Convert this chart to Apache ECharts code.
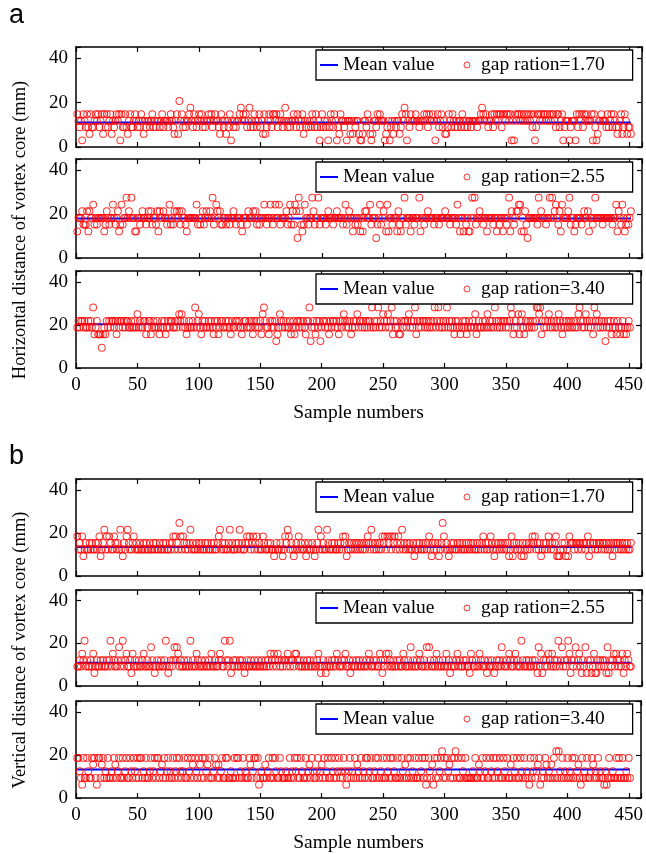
<!DOCTYPE html>
<html><head><meta charset="utf-8">
<script src="https://cdn.jsdelivr.net/npm/echarts@6/dist/echarts.min.js"></script>
<style>html,body{margin:0;padding:0;background:#fff}#c{width:646px;height:854px}</style>
</head><body><div id="c"></div>
<script>
// ---- data ----
const xTickLabels = [0, 50, 100, 150, 200, 250, 300, 350, 400, 450];
const yTickLabels = [0, 20, 40];
const seriesNames = ['gap ration=1.70', 'gap ration=2.55', 'gap ration=3.40'];
const meanValues = [11.0, 18.0, 20.3, 13.5, 10.9, 13.2];

const horiz170 = [
14.8,11.8,8.9,11.8,3,14.8,11.8,8.9,14.8,8.9,5.9,14.8,8.9,8.9,11.8,14.8,11.8,14.8,8.9,11.8,14.8,5.9,14.8,8.9,14.8,
8.9,11.8,14.8,5.9,11.8,8.9,11.8,14.8,11.8,14.8,3,14.8,8.9,8.9,14.8,8.9,5.9,11.8,14.8,8.9,8.9,11.8,14.8,11.8,8.9,
11.8,8.9,14.8,11.8,5.9,11.8,8.9,11.8,11.8,8.9,11.8,14.8,8.9,11.8,8.9,11.8,11.8,8.9,11.8,14.8,8.9,11.8,11.8,11.8,8.9,
11.8,14.8,11.8,8.9,5.9,11.8,14.8,5.9,20.7,11.8,14.8,8.9,11.8,8.9,11.8,11.8,14.8,17.7,11.8,8.9,14.8,11.8,8.9,11.8,14.8,
11.8,14.8,8.9,11.8,8.9,11.8,11.8,14.8,11.8,14.8,8.9,11.8,14.8,11.8,11.8,8.9,5.9,14.8,11.8,8.9,11.8,5.9,11.8,8.9,14.8,
3,11.8,8.9,11.8,8.9,11.8,11.8,14.8,17.7,11.8,14.8,11.8,14.8,8.9,11.8,17.7,8.9,11.8,8.9,14.8,11.8,8.9,11.8,14.8,8.9,
11.8,5.9,14.8,5.9,8.9,11.8,14.8,11.8,8.9,14.8,14.8,11.8,14.8,8.9,11.8,14.8,11.8,8.9,11.8,17.7,11.8,8.9,11.8,8.9,11.8,
11.8,14.8,11.8,8.9,14.8,11.8,8.9,11.8,14.8,5.9,11.8,8.9,11.8,8.9,11.8,8.9,14.8,11.8,8.9,14.8,8.9,11.8,3,8.9,14.8,
8.9,11.8,8.9,11.8,3,8.9,14.8,11.8,8.9,14.8,11.8,3,8.9,5.9,14.8,11.8,11.8,8.9,11.8,3,11.8,11.8,5.9,11.8,5.9,
11.8,8.9,11.8,11.8,5.9,3,3,5.9,11.8,11.8,8.9,14.8,11.8,5.9,3,5.9,11.8,11.8,8.9,14.8,11.8,14.8,11.8,11.8,11.8,
3,5.9,8.9,11.8,3,8.9,11.8,5.9,11.8,8.9,11.8,11.8,5.9,8.9,14.8,11.8,17.7,14.8,3,11.8,8.9,14.8,11.8,11.8,11.8,
14.8,11.8,11.8,8.9,11.8,11.8,11.8,14.8,11.8,14.8,8.9,14.8,11.8,11.8,14.8,11.8,3,11.8,14.8,8.9,11.8,14.8,8.9,11.8,5.9,
5.9,8.9,14.8,11.8,8.9,14.8,11.8,8.9,11.8,8.9,11.8,11.8,8.9,14.8,11.8,8.9,11.8,8.9,11.8,11.8,8.9,11.8,11.8,11.8,11.8,
8.9,11.8,11.8,14.8,17.7,14.8,11.8,14.8,11.8,8.9,11.8,11.8,14.8,8.9,14.8,11.8,14.8,11.8,14.8,14.8,8.9,14.8,14.8,11.8,14.8,
14.8,11.8,14.8,3,11.8,3,14.8,11.8,14.8,14.8,11.8,14.8,11.8,14.8,11.8,14.8,11.8,14.8,11.8,14.8,8.9,14.8,3,8.9,14.8,
14.8,11.8,14.8,11.8,14.8,14.8,11.8,14.8,11.8,14.8,11.8,14.8,14.8,11.8,8.9,14.8,14.8,8.9,11.8,14.8,3,8.9,11.8,11.8,11.8,
3,8.9,11.8,11.8,11.8,3,14.8,8.9,14.8,11.8,14.8,8.9,14.8,11.8,14.8,11.8,11.8,11.8,14.8,3,14.8,8.9,3,5.9,11.8,
11.8,14.8,11.8,11.8,11.8,8.9,14.8,8.9,11.8,14.8,8.9,14.8,11.8,8.9,5.9,8.9,11.8,14.8,5.9,8.9,14.8,11.8,5.9,8.9,8.9,
5.9];

const horiz255 = [
12.1,18.2,18.2,18.2,21.3,15.2,15.2,15.2,21.3,12.1,21.3,18.2,18.2,24.3,15.2,18.2,15.2,18.2,18.2,18.2,18.2,18.2,12.1,15.2,21.3,
18.2,15.2,18.2,18.2,24.3,18.2,15.2,18.2,21.3,12.1,15.2,24.3,15.2,18.2,18.2,27.4,18.2,21.3,18.2,27.4,18.2,18.2,12.1,12.1,18.2,
18.2,15.2,18.2,21.3,18.2,18.2,15.2,18.2,21.3,18.2,21.3,15.2,18.2,18.2,15.2,21.3,12.1,21.3,18.2,18.2,21.3,18.2,18.2,15.2,18.2,
24.3,15.2,18.2,15.2,21.3,18.2,21.3,18.2,21.3,15.2,21.3,18.2,18.2,15.2,12.1,18.2,18.2,18.2,18.2,18.2,18.2,18.2,24.3,15.2,18.2,
15.2,18.2,21.3,15.2,18.2,21.3,18.2,18.2,21.3,18.2,27.4,15.2,18.2,24.3,21.3,18.2,21.3,15.2,15.2,18.2,18.2,15.2,18.2,18.2,15.2,
18.2,18.2,21.3,18.2,15.2,18.2,18.2,18.2,15.2,12.1,18.2,18.2,18.2,15.2,21.3,18.2,18.2,18.2,21.3,18.2,21.3,15.2,18.2,15.2,18.2,
18.2,18.2,24.3,18.2,15.2,18.2,18.2,24.3,18.2,15.2,18.2,24.3,18.2,18.2,24.3,15.2,18.2,18.2,18.2,18.2,21.3,15.2,18.2,24.3,15.2,
21.3,15.2,24.3,21.3,9.1,27.4,21.3,15.2,12.1,15.2,24.3,18.2,18.2,15.2,18.2,18.2,27.4,21.3,15.2,18.2,18.2,27.4,15.2,18.2,18.2,
18.2,18.2,15.2,18.2,21.3,18.2,18.2,18.2,15.2,18.2,18.2,21.3,18.2,18.2,18.2,18.2,15.2,18.2,24.3,15.2,18.2,21.3,18.2,18.2,12.1,
18.2,15.2,18.2,15.2,18.2,12.1,18.2,12.1,18.2,21.3,21.3,18.2,18.2,24.3,15.2,18.2,18.2,18.2,9.1,15.2,18.2,24.3,15.2,18.2,21.3,
18.2,12.1,24.3,12.1,18.2,18.2,15.2,18.2,18.2,18.2,12.1,21.3,15.2,12.1,18.2,18.2,27.4,15.2,18.2,18.2,18.2,12.1,18.2,18.2,15.2,
18.2,18.2,18.2,27.4,12.1,18.2,18.2,15.2,18.2,18.2,21.3,18.2,18.2,18.2,18.2,15.2,18.2,18.2,18.2,15.2,18.2,18.2,18.2,18.2,21.3,
18.2,18.2,18.2,15.2,18.2,18.2,18.2,18.2,15.2,24.3,18.2,12.1,18.2,18.2,12.1,18.2,15.2,18.2,12.1,12.1,18.2,27.4,18.2,27.4,15.2,
18.2,18.2,21.3,18.2,18.2,15.2,18.2,18.2,12.1,18.2,18.2,18.2,18.2,15.2,18.2,18.2,12.1,18.2,15.2,18.2,18.2,12.1,18.2,18.2,15.2,
18.2,27.4,12.1,21.3,18.2,15.2,18.2,21.3,21.3,24.3,24.3,12.1,18.2,12.1,21.3,15.2,9.1,18.2,18.2,18.2,18.2,18.2,18.2,18.2,15.2,
27.4,18.2,21.3,18.2,18.2,18.2,15.2,18.2,18.2,27.4,18.2,27.4,18.2,21.3,24.3,18.2,15.2,21.3,12.1,24.3,18.2,18.2,18.2,18.2,21.3,
27.4,15.2,18.2,18.2,12.1,15.2,18.2,18.2,18.2,18.2,15.2,18.2,21.3,18.2,18.2,21.3,12.1,18.2,18.2,15.2,18.2,27.4,18.2,18.2,18.2,
18.2,18.2,15.2,18.2,18.2,18.2,18.2,18.2,18.2,18.2,15.2,18.2,18.2,24.3,12.1,21.3,18.2,15.2,24.3,18.2,12.1,15.2,18.2,15.2,18.2,
21.3];

const horiz340 = [
18.8,21.9,18.8,21.9,21.9,18.8,21.9,18.8,18.8,21.9,18.8,21.9,18.8,28.1,15.6,18.8,21.9,15.6,15.6,15.6,9.4,15.6,18.8,15.6,21.9,
18.8,21.9,18.8,21.9,21.9,18.8,21.9,15.6,21.9,18.8,21.9,21.9,18.8,21.9,18.8,21.9,21.9,18.8,18.8,21.9,18.8,18.8,21.9,18.8,25,
18.8,21.9,18.8,18.8,21.9,21.9,15.6,18.8,21.9,21.9,15.6,18.8,21.9,18.8,18.8,21.9,18.8,15.6,18.8,21.9,18.8,21.9,15.6,18.8,21.9,
18.8,21.9,21.9,18.8,18.8,21.9,18.8,21.9,25,21.9,25,18.8,21.9,18.8,15.6,18.8,21.9,18.8,18.8,21.9,18.8,28.1,18.8,21.9,25,
18.8,15.6,21.9,18.8,21.9,18.8,18.8,21.9,18.8,21.9,18.8,15.6,21.9,18.8,21.9,15.6,18.8,21.9,21.9,18.8,18.8,21.9,18.8,21.9,18.8,
15.6,21.9,18.8,18.8,21.9,21.9,18.8,21.9,18.8,15.6,18.8,21.9,21.9,18.8,18.8,21.9,18.8,21.9,15.6,21.9,18.8,21.9,18.8,18.8,21.9,
15.6,25,28.1,21.9,18.8,18.8,15.6,21.9,18.8,21.9,18.8,21.9,12.5,15.6,18.8,25,21.9,18.8,21.9,18.8,21.9,18.8,18.8,21.9,15.6,
18.8,21.9,15.6,18.8,21.9,21.9,18.8,21.9,18.8,21.9,18.8,15.6,21.9,21.9,28.1,12.5,18.8,21.9,18.8,15.6,21.9,18.8,21.9,12.5,18.8,
21.9,21.9,18.8,21.9,18.8,15.6,21.9,18.8,21.9,21.9,18.8,21.9,18.8,15.6,21.9,18.8,21.9,25,21.9,18.8,21.9,18.8,21.9,15.6,18.8,
21.9,18.8,21.9,25,18.8,21.9,21.9,18.8,21.9,18.8,21.9,18.8,21.9,21.9,18.8,28.1,18.8,21.9,18.8,21.9,28.1,18.8,21.9,18.8,25,
21.9,18.8,21.9,25,18.8,21.9,28.1,15.6,21.9,18.8,21.9,18.8,15.6,15.6,21.9,18.8,21.9,21.9,18.8,21.9,25,18.8,21.9,18.8,21.9,
28.1,15.6,21.9,18.8,21.9,18.8,21.9,21.9,18.8,21.9,18.8,21.9,18.8,21.9,18.8,21.9,28.1,18.8,21.9,28.1,18.8,21.9,18.8,21.9,18.8,
21.9,28.1,18.8,21.9,18.8,21.9,18.8,15.6,21.9,18.8,21.9,18.8,15.6,18.8,21.9,18.8,21.9,15.6,18.8,21.9,18.8,18.8,21.9,18.8,25,
15.6,18.8,21.9,18.8,18.8,21.9,18.8,21.9,18.8,25,18.8,21.9,18.8,21.9,18.8,28.1,21.9,18.8,21.9,18.8,21.9,18.8,21.9,21.9,18.8,
21.9,18.8,21.9,28.1,25,15.6,18.8,21.9,18.8,25,15.6,21.9,25,18.8,15.6,21.9,18.8,21.9,18.8,21.9,18.8,21.9,18.8,21.9,28.1,
28.1,25,28.1,15.6,21.9,18.8,21.9,18.8,21.9,25,18.8,21.9,18.8,21.9,18.8,21.9,18.8,25,21.9,18.8,15.6,21.9,18.8,21.9,18.8,
21.9,18.8,21.9,18.8,21.9,18.8,21.9,18.8,25,28.1,21.9,18.8,21.9,18.8,25,21.9,18.8,21.9,18.8,21.9,15.6,28.1,21.9,25,18.8,
21.9,18.8,21.9,18.8,21.9,12.5,18.8,21.9,18.8,21.9,15.6,18.8,21.9,18.8,15.6,21.9,18.8,15.6,18.8,21.9,15.6,18.8,15.6,18.8,21.9,
18.8];

const vert170 = [
18.4,12.3,15.4,12.3,18.4,9.2,12.3,15.4,12.3,12.3,15.4,12.3,15.4,12.3,12.3,15.4,12.3,15.4,18.4,9.2,12.3,15.4,21.5,12.3,18.4,
12.3,18.4,15.4,12.3,12.3,18.4,15.4,12.3,15.4,12.3,21.5,12.3,9.2,15.4,12.3,18.4,21.5,15.4,12.3,12.3,15.4,18.4,12.3,15.4,12.3,
12.3,15.4,12.3,12.3,15.4,12.3,15.4,12.3,12.3,15.4,12.3,12.3,15.4,12.3,15.4,12.3,12.3,15.4,12.3,12.3,15.4,12.3,15.4,12.3,12.3,
15.4,12.3,15.4,18.4,12.3,18.4,15.4,12.3,24.6,18.4,12.3,18.4,15.4,12.3,15.4,12.3,15.4,21.5,12.3,15.4,12.3,12.3,15.4,12.3,15.4,
12.3,15.4,12.3,12.3,15.4,12.3,15.4,12.3,12.3,15.4,12.3,15.4,12.3,12.3,15.4,18.4,21.5,12.3,15.4,12.3,15.4,12.3,12.3,15.4,21.5,
12.3,15.4,12.3,12.3,15.4,12.3,15.4,21.5,12.3,15.4,12.3,12.3,15.4,18.4,15.4,18.4,12.3,15.4,18.4,12.3,15.4,18.4,12.3,15.4,12.3,
12.3,18.4,15.4,12.3,12.3,15.4,12.3,15.4,12.3,12.3,9.2,12.3,15.4,12.3,12.3,15.4,12.3,9.2,12.3,18.4,15.4,21.5,18.4,12.3,15.4,
12.3,9.2,12.3,15.4,12.3,18.4,12.3,15.4,12.3,12.3,15.4,9.2,12.3,15.4,12.3,12.3,15.4,12.3,9.2,12.3,15.4,21.5,12.3,18.4,12.3,
15.4,12.3,12.3,21.5,15.4,12.3,12.3,15.4,12.3,15.4,12.3,12.3,15.4,12.3,15.4,12.3,18.4,15.4,18.4,9.2,12.3,15.4,12.3,15.4,12.3,
15.4,12.3,15.4,12.3,15.4,12.3,15.4,12.3,15.4,12.3,15.4,18.4,15.4,12.3,21.5,15.4,12.3,15.4,12.3,15.4,12.3,15.4,12.3,18.4,15.4,
18.4,12.3,18.4,15.4,18.4,12.3,18.4,15.4,18.4,12.3,15.4,18.4,12.3,15.4,21.5,12.3,15.4,12.3,15.4,12.3,15.4,12.3,12.3,15.4,9.2,
12.3,15.4,12.3,15.4,12.3,12.3,15.4,12.3,15.4,12.3,15.4,18.4,12.3,9.2,15.4,12.3,15.4,12.3,15.4,9.2,12.3,15.4,24.6,18.4,12.3,
15.4,12.3,9.2,12.3,15.4,12.3,15.4,12.3,12.3,15.4,12.3,15.4,12.3,15.4,12.3,12.3,15.4,12.3,15.4,12.3,15.4,12.3,15.4,12.3,12.3,
15.4,12.3,15.4,12.3,15.4,18.4,12.3,15.4,12.3,15.4,12.3,18.4,15.4,12.3,9.2,15.4,12.3,15.4,12.3,15.4,12.3,15.4,12.3,15.4,12.3,
15.4,9.2,12.3,18.4,9.2,15.4,12.3,15.4,12.3,15.4,12.3,9.2,15.4,9.2,12.3,15.4,12.3,15.4,12.3,15.4,18.4,15.4,18.4,12.3,15.4,
12.3,15.4,9.2,12.3,15.4,12.3,15.4,12.3,18.4,15.4,12.3,15.4,12.3,15.4,18.4,9.2,9.2,9.2,12.3,15.4,12.3,15.4,9.2,12.3,9.2,
18.4,15.4,15.4,15.4,12.3,15.4,15.4,12.3,15.4,15.4,12.3,15.4,15.4,12.3,15.4,18.4,9.2,15.4,12.3,15.4,15.4,12.3,15.4,12.3,15.4,
15.4,12.3,15.4,15.4,12.3,15.4,12.3,15.4,12.3,15.4,9.2,15.4,12.3,15.4,15.4,12.3,15.4,12.3,15.4,12.3,15.4,12.3,15.4,12.3,12.3,
15.4];

const vert255 = [
9.1,9.1,12.1,9.1,15.2,12.1,21.2,9.1,12.1,9.1,9.1,12.1,9.1,15.2,6.1,9.1,12.1,9.1,9.1,12.1,9.1,12.1,9.1,9.1,12.1,
9.1,12.1,21.2,9.1,15.2,12.1,9.1,9.1,12.1,18.2,9.1,12.1,21.2,9.1,12.1,15.2,9.1,9.1,12.1,6.1,15.2,9.1,12.1,9.1,9.1,
12.1,9.1,9.1,12.1,15.2,9.1,9.1,12.1,9.1,9.1,18.2,12.1,9.1,6.1,9.1,12.1,9.1,9.1,12.1,9.1,9.1,12.1,21.2,9.1,6.1,
9.1,12.1,9.1,12.1,18.2,12.1,18.2,15.2,9.1,12.1,9.1,9.1,12.1,9.1,9.1,12.1,9.1,21.2,9.1,12.1,9.1,9.1,15.2,12.1,9.1,
9.1,12.1,9.1,9.1,12.1,9.1,9.1,12.1,9.1,15.2,9.1,9.1,12.1,9.1,9.1,12.1,15.2,12.1,9.1,9.1,21.2,12.1,9.1,12.1,21.2,
6.1,9.1,12.1,9.1,12.1,9.1,9.1,12.1,9.1,12.1,9.1,6.1,9.1,12.1,9.1,9.1,12.1,9.1,9.1,12.1,9.1,9.1,12.1,9.1,9.1,
12.1,9.1,9.1,12.1,9.1,12.1,9.1,15.2,12.1,9.1,15.2,12.1,9.1,15.2,12.1,9.1,12.1,9.1,12.1,12.1,9.1,15.2,12.1,9.1,12.1,
12.1,9.1,15.2,15.2,12.1,9.1,12.1,9.1,9.1,12.1,9.1,9.1,12.1,9.1,12.1,9.1,9.1,12.1,9.1,9.1,12.1,15.2,9.1,6.1,9.1,
12.1,9.1,6.1,9.1,12.1,9.1,9.1,12.1,9.1,12.1,9.1,15.2,12.1,9.1,9.1,12.1,9.1,12.1,15.2,9.1,9.1,12.1,6.1,9.1,12.1,
9.1,9.1,12.1,9.1,12.1,9.1,9.1,12.1,9.1,9.1,12.1,9.1,15.2,12.1,9.1,9.1,12.1,9.1,12.1,9.1,9.1,15.2,12.1,6.1,9.1,
12.1,15.2,9.1,15.2,12.1,9.1,9.1,12.1,9.1,9.1,12.1,9.1,12.1,9.1,9.1,15.2,12.1,9.1,9.1,12.1,9.1,18.2,9.1,12.1,9.1,
9.1,12.1,9.1,15.2,12.1,9.1,9.1,12.1,9.1,18.2,9.1,18.2,12.1,9.1,9.1,12.1,9.1,15.2,9.1,12.1,9.1,9.1,12.1,9.1,9.1,
15.2,9.1,12.1,6.1,9.1,12.1,9.1,9.1,12.1,15.2,9.1,12.1,9.1,9.1,12.1,9.1,12.1,9.1,9.1,6.1,15.2,12.1,9.1,9.1,12.1,
9.1,9.1,15.2,12.1,9.1,9.1,12.1,9.1,6.1,12.1,9.1,9.1,12.1,9.1,6.1,9.1,12.1,9.1,12.1,9.1,18.2,12.1,9.1,9.1,12.1,
9.1,15.2,12.1,9.1,9.1,12.1,15.2,9.1,12.1,9.1,9.1,21.2,12.1,9.1,9.1,12.1,9.1,12.1,9.1,9.1,12.1,9.1,12.1,9.1,6.1,
18.2,9.1,15.2,6.1,12.1,9.1,12.1,9.1,15.2,12.1,9.1,15.2,9.1,12.1,9.1,12.1,21.2,9.1,12.1,18.2,9.1,12.1,9.1,12.1,21.2,
15.2,6.1,12.1,9.1,12.1,18.2,9.1,12.1,15.2,9.1,6.1,12.1,9.1,18.2,6.1,12.1,9.1,12.1,6.1,9.1,15.2,6.1,6.1,12.1,9.1,
12.1,9.1,12.1,9.1,12.1,6.1,18.2,6.1,12.1,9.1,12.1,15.2,9.1,15.2,12.1,9.1,12.1,9.1,15.2,6.1,12.1,9.1,15.2,12.1,9.1,
9.1];

const vert340 = [
18.6,18.6,12.4,9.3,6.2,18.6,9.3,9.3,18.6,12.4,9.3,9.3,18.6,15.5,18.6,9.3,6.2,18.6,18.6,9.3,15.5,18.6,9.3,12.4,9.3,
18.6,9.3,9.3,12.4,9.3,18.6,15.5,9.3,12.4,18.6,9.3,9.3,18.6,9.3,12.4,18.6,9.3,9.3,18.6,12.4,9.3,18.6,12.4,9.3,18.6,
9.3,18.6,18.6,9.3,12.4,9.3,18.6,9.3,9.3,12.4,18.6,9.3,12.4,18.6,9.3,18.6,18.6,9.3,12.4,15.5,9.3,18.6,9.3,12.4,18.6,
9.3,12.4,9.3,18.6,9.3,12.4,18.6,9.3,18.6,12.4,9.3,12.4,18.6,9.3,9.3,18.6,12.4,9.3,18.6,15.5,9.3,18.6,12.4,9.3,18.6,
15.5,9.3,18.6,9.3,18.6,12.4,15.5,9.3,18.6,9.3,9.3,12.4,18.6,15.5,9.3,15.5,9.3,12.4,18.6,9.3,9.3,18.6,18.6,9.3,9.3,
12.4,9.3,9.3,18.6,9.3,18.6,18.6,9.3,12.4,9.3,18.6,9.3,12.4,9.3,9.3,18.6,15.5,9.3,12.4,18.6,18.6,9.3,18.6,6.2,9.3,
12.4,9.3,9.3,15.5,9.3,12.4,18.6,9.3,9.3,18.6,9.3,18.6,12.4,9.3,9.3,18.6,12.4,9.3,9.3,9.3,12.4,9.3,9.3,18.6,9.3,
12.4,9.3,18.6,12.4,18.6,9.3,9.3,18.6,12.4,9.3,9.3,18.6,9.3,12.4,15.5,9.3,18.6,12.4,9.3,9.3,12.4,18.6,9.3,12.4,15.5,
9.3,18.6,9.3,12.4,18.6,9.3,9.3,18.6,12.4,9.3,18.6,9.3,12.4,18.6,9.3,12.4,9.3,18.6,12.4,6.2,9.3,12.4,18.6,9.3,12.4,
9.3,18.6,9.3,15.5,12.4,9.3,18.6,9.3,12.4,9.3,18.6,18.6,9.3,12.4,18.6,9.3,9.3,12.4,18.6,9.3,18.6,9.3,12.4,9.3,18.6,
9.3,9.3,18.6,12.4,9.3,18.6,9.3,18.6,12.4,9.3,9.3,18.6,9.3,9.3,18.6,12.4,9.3,15.5,9.3,18.6,9.3,18.6,9.3,12.4,9.3,
18.6,9.3,9.3,18.6,9.3,12.4,18.6,9.3,18.6,6.2,9.3,18.6,12.4,9.3,15.5,6.2,18.6,9.3,18.6,9.3,12.4,18.6,21.7,9.3,18.6,
9.3,18.6,12.4,15.5,9.3,18.6,9.3,18.6,21.7,9.3,18.6,9.3,9.3,18.6,12.4,9.3,18.6,9.3,9.3,9.3,9.3,9.3,12.4,9.3,18.6,
9.3,9.3,15.5,12.4,9.3,18.6,9.3,12.4,18.6,9.3,9.3,18.6,12.4,9.3,18.6,9.3,18.6,12.4,9.3,18.6,9.3,9.3,18.6,12.4,9.3,
18.6,9.3,9.3,15.5,9.3,18.6,12.4,9.3,18.6,9.3,9.3,18.6,12.4,9.3,18.6,9.3,12.4,9.3,6.2,18.6,9.3,12.4,18.6,9.3,12.4,
15.5,18.6,6.2,9.3,12.4,9.3,18.6,15.5,9.3,12.4,9.3,15.5,9.3,18.6,9.3,21.7,9.3,21.7,12.4,9.3,18.6,9.3,12.4,9.3,18.6,
9.3,12.4,9.3,18.6,9.3,18.6,9.3,12.4,15.5,9.3,6.2,18.6,9.3,12.4,9.3,18.6,9.3,9.3,12.4,18.6,15.5,9.3,12.4,9.3,18.6,
9.3,12.4,9.3,9.3,6.2,12.4,6.2,9.3,18.6,9.3,9.3,12.4,9.3,9.3,18.6,9.3,18.6,9.3,9.3,18.6,9.3,9.3,12.4,9.3,18.6,
9.3];

// ---- layout / styling ----
const SERIF = 'Liberation Serif';
const panels = [
  { values: horiz170, name: seriesNames[0], mean: meanValues[0], top: 47,  height: 100, labels: false },
  { values: horiz255, name: seriesNames[1], mean: meanValues[1], top: 159, height: 99,  labels: false },
  { values: horiz340, name: seriesNames[2], mean: meanValues[2], top: 271, height: 97,  labels: true  },
  { values: vert170,  name: seriesNames[0], mean: meanValues[3], top: 479, height: 97,  labels: false },
  { values: vert255,  name: seriesNames[1], mean: meanValues[4], top: 590, height: 96,  labels: false },
  { values: vert340,  name: seriesNames[2], mean: meanValues[5], top: 701, height: 97,  labels: true  }
];

const grid = [], xAxis = [], yAxis = [], series = [], legend = [];
const lineSt = { color: '#000', width: 1.5 };
const tickSt = { show: true, inside: true, length: 5, lineStyle: { color: '#000', width: 1.2 } };
const labSt = { color: '#000', fontFamily: SERIF, fontSize: 19 };
const circleStyle = { color: 'rgba(255,255,255,0)', borderColor: '#ff0000', borderWidth: 1 };

panels.forEach((p, i) => {
  grid.push({ left: 76, top: p.top, width: 566, height: p.height, containLabel: false });
  xAxis.push({
    gridIndex: i, type: 'value', min: 0, max: 460, interval: 50, position: 'bottom',
    axisLine: { show: true, onZero: false, lineStyle: lineSt }, axisTick: tickSt,
    axisLabel: Object.assign({ show: p.labels, margin: 8,
      formatter: v => (xTickLabels.indexOf(v) >= 0 ? String(v) : '') }, labSt),
    splitLine: { show: false },
    name: p.labels ? 'Sample numbers' : '', nameLocation: 'middle', nameGap: 35,
    nameTextStyle: { color: '#000', fontFamily: SERIF, fontSize: 19.5 }
  });
  xAxis.push({
    gridIndex: i, type: 'value', min: 0, max: 460, interval: 50, position: 'top',
    axisLine: { show: true, onZero: false, lineStyle: lineSt }, axisTick: tickSt,
    axisLabel: { show: false }, splitLine: { show: false }
  });
  yAxis.push({
    gridIndex: i, type: 'value', min: 0, max: 45, interval: 20, position: 'left',
    axisLine: { show: true, onZero: false, lineStyle: lineSt }, axisTick: tickSt,
    axisLabel: Object.assign({ margin: 8,
      formatter: v => (yTickLabels.indexOf(v) >= 0 ? String(v) : '') }, labSt),
    splitLine: { show: false }
  });
  yAxis.push({
    gridIndex: i, type: 'value', min: 0, max: 45, interval: 20, position: 'right',
    axisLine: { show: true, onZero: false, lineStyle: lineSt }, axisTick: tickSt,
    axisLabel: { show: false }, splitLine: { show: false }
  });
  series.push({
    type: 'line', name: 'Mean value', xAxisIndex: 2 * i, yAxisIndex: 2 * i,
    data: [[1, p.mean], [p.values.length, p.mean]], symbol: 'none',
    lineStyle: { color: '#0000ff', width: 2 }, itemStyle: { color: '#0000ff' }, z: 2
  });
  series.push({
    type: 'scatter', name: p.name, xAxisIndex: 2 * i, yAxisIndex: 2 * i,
    data: p.values.map((v, k) => [k + 1, v]), symbol: 'circle', symbolSize: 6.8,
    itemStyle: circleStyle, z: 3
  });
  legend.push({
    left: 316, top: p.top + 3, orient: 'horizontal', selectedMode: false,
    data: [
      { name: 'Mean value', icon: 'path://M0 0H18V2H0Z', itemStyle: { color: '#0000ff', borderWidth: 0 } },
      { name: p.name, icon: 'circle', itemStyle: { color: 'rgba(255,255,255,0)', borderColor: '#ff0000', borderWidth: 1 } }
    ],
    itemWidth: 18, itemHeight: 6, itemGap: 29,
    padding: [5, 28, 5, 4], backgroundColor: '#fff', borderColor: '#000', borderWidth: 1.3,
    textStyle: { color: '#000', fontFamily: SERIF, fontSize: 19.5, lineHeight: 20 }, z: 10
  });
});

const chart = echarts.init(document.getElementById('c'), null, { renderer: 'canvas' });
chart.setOption({
  animation: false,
  backgroundColor: '#fff',
  grid, xAxis, yAxis, series, legend,
  graphic: [
    { type: 'text', x: 9, y: 16, style: { text: 'a', fontFamily: 'Liberation Sans', fontSize: 27, fill: '#000', verticalAlign: 'middle' } },
    { type: 'text', x: 9, y: 457, style: { text: 'b', fontFamily: 'Liberation Sans', fontSize: 27, fill: '#000', verticalAlign: 'middle' } },
    { type: 'text', x: 20, y: 230, rotation: Math.PI / 2,
      style: { text: 'Horizontal distance of vortex core (mm)', fontFamily: SERIF, fontSize: 18.5, fill: '#000', align: 'center', verticalAlign: 'middle' } },
    { type: 'text', x: 20, y: 650, rotation: Math.PI / 2,
      style: { text: 'Vertical distance of vortex core (mm)', fontFamily: SERIF, fontSize: 18.5, fill: '#000', align: 'center', verticalAlign: 'middle' } }
  ]
});
</script>
</body></html>
